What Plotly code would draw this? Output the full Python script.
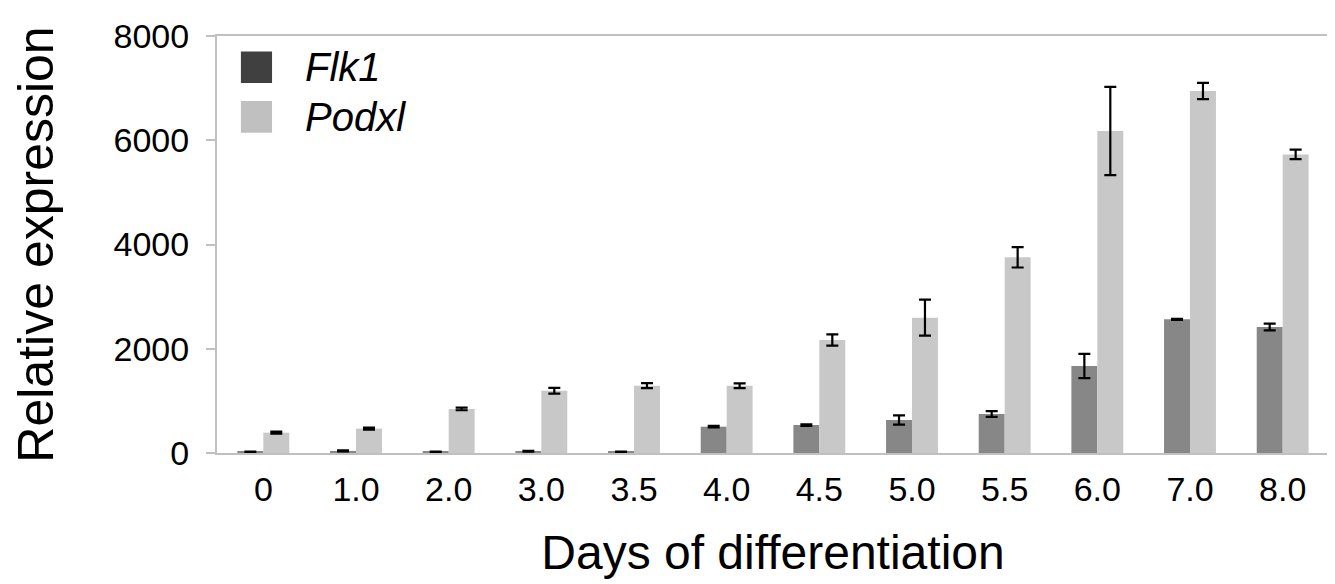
import plotly.graph_objects as go

days = ["0", "1.0", "2.0", "3.0", "3.5", "4.0", "4.5", "5.0", "5.5", "6.0", "7.0", "8.0"]
flk1 = [20, 40, 20, 35, 20, 505, 537, 633, 748, 1670, 2564, 2417]
flk1_err = [8, 10, 8, 8, 8, 15, 15, 90, 55, 233, 10, 65]
podxl = [390, 468, 845, 1196, 1291, 1291, 2168, 2596, 3754, 6177, 6945, 5729]
podxl_err = [20, 20, 25, 55, 48, 45, 109, 345, 195, 847, 157, 90]

series_names = ["Flk1", "Podxl"]
bar_colors = ["#878787", "#c8c8c8"]
legend_colors = ["#404040", "#c0c0c0"]

font_family = "Liberation Sans, Arial, Helvetica, sans-serif"

fig = go.Figure()
for name, vals, errs, col in [("Flk1", flk1, flk1_err, bar_colors[0]),
                              ("Podxl", podxl, podxl_err, bar_colors[1])]:
    fig.add_trace(go.Bar(
        x=days, y=vals, name=name,
        marker=dict(color=col, line=dict(width=0)),
        error_y=dict(type="data", array=errs, visible=True,
                     color="black", thickness=2.2, width=6),
        showlegend=False,
    ))

# manual legend (large square swatches)
shapes = []
annotations = []
leg_y = [0.925, 0.806]
for i, name in enumerate(series_names):
    yc = leg_y[i]
    shapes.append(dict(type="rect", xref="paper", yref="paper",
                       x0=0.0215, x1=0.0495, y0=yc - 0.038, y1=yc + 0.038,
                       fillcolor=legend_colors[i], line=dict(width=0)))
    annotations.append(dict(xref="paper", yref="paper", x=0.077, y=yc,
                            text="<i>" + name + "</i>", showarrow=False,
                            xanchor="left", yanchor="middle",
                            font=dict(size=40, color="black", family=font_family)))

fig.update_layout(
    width=1335, height=584,
    margin=dict(l=209, r=14, t=28, b=139),
    paper_bgcolor="white", plot_bgcolor="white",
    barmode="group", bargap=0.44, bargroupgap=0.0,
    font=dict(family=font_family, color="black"),
    shapes=shapes, annotations=annotations,
    xaxis=dict(
        title=dict(text="Days of differentiation", font=dict(size=48), standoff=29),
        tickfont=dict(size=34),
        showline=True, linecolor="#c0c0c0", linewidth=2, mirror=True,
        ticks="", showgrid=False, zeroline=False,
        ticklabelstandoff=5, automargin=False,
    ),
    yaxis=dict(
        title=dict(text="Relative expression", font=dict(size=50), standoff=46),
        tickfont=dict(size=34),
        range=[0, 8000], tickvals=[0, 2000, 4000, 6000, 8000],
        showline=True, linecolor="#c0c0c0", linewidth=2, mirror=True,
        ticks="outside", ticklen=9, tickwidth=2, tickcolor="#c0c0c0",
        showgrid=False, zeroline=False,
        ticklabelstandoff=10, automargin=False,
    ),
)

fig.write_html("out.html")
